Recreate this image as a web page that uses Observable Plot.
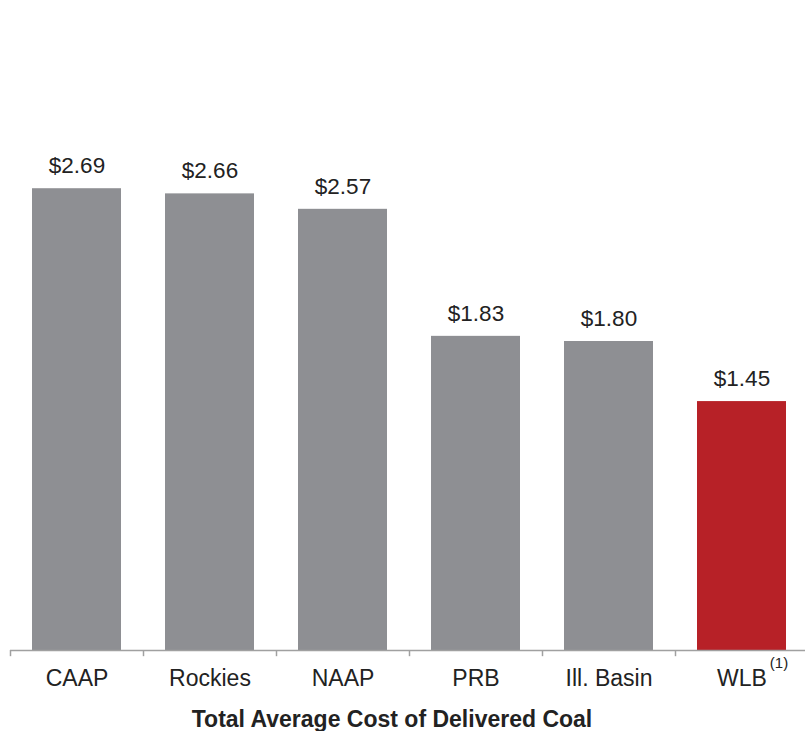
<!DOCTYPE html>
<html>
<head>
<meta charset="utf-8">
<script src="https://cdn.jsdelivr.net/npm/d3@7"></script>
<script src="https://cdn.jsdelivr.net/npm/@observablehq/plot@0.6"></script>
<style>
  html, body { margin: 0; padding: 0; background: #fff; }
  #chart svg { display: block; }
</style>
</head>
<body>
<div id="chart"></div>
<script>
const categories = ["CAAP", "Rockies", "NAAP", "PRB", "Ill. Basin", "WLB"];
const costs = [2.69, 2.66, 2.57, 1.83, 1.80, 1.45];
const valueLabels = ["$2.69", "$2.66", "$2.57", "$1.83", "$1.80", "$1.45"];
const highlight = "WLB";
const footnote = "(1)";
const title = "Total Average Cost of Delivered Coal";

const data = categories.map((c, i) => ({cat: c, value: costs[i], label: valueLabels[i]}));

const W = 805, H = 731, ML = 10, MR = 0;
const XR = [10, 808];
const step = (XR[1] - XR[0]) / categories.length;

const chart = Plot.plot({
  width: W,
  height: H,
  marginLeft: ML,
  marginRight: MR,
  marginTop: 135,
  marginBottom: 81,
  style: {fontFamily: "'Liberation Sans', Arial, sans-serif", color: "#222", background: "#fff"},
  x: {domain: categories, range: XR, paddingInner: 0.33, paddingOuter: 0.165, label: null},
  y: {domain: [0, 3], axis: null},
  marks: [
    Plot.barY(data, {x: "cat", y: "value", fill: d => d.cat === highlight ? "#b72127" : "#8e8f93"}),
    Plot.ruleY([0], {stroke: "#a0a0a0", strokeWidth: 1.5}),
    Plot.ruleX(categories, {x: d => d, y1: 0, y2: -0.036, dx: -step / 2, stroke: "#a0a0a0", strokeWidth: 1.5}),
    Plot.axisX({tickSize: 0, tickPadding: 19, fontSize: 23, fill: "#222", label: null}),
    Plot.text(data, {x: "cat", y: "value", text: "label", dy: -23, fontSize: 22.5, fill: "#222"}),
    Plot.text([highlight], {x: d => d, frameAnchor: "bottom", dx: 37, dy: 17, text: () => footnote, fontSize: 15, fill: "#222"}),
    Plot.text([title], {frameAnchor: "bottom", dx: -16, dy: 76, fontSize: 23, fontWeight: "bold", fill: "#222"})
  ]
});
document.getElementById("chart").append(chart);
</script>
</body>
</html>
